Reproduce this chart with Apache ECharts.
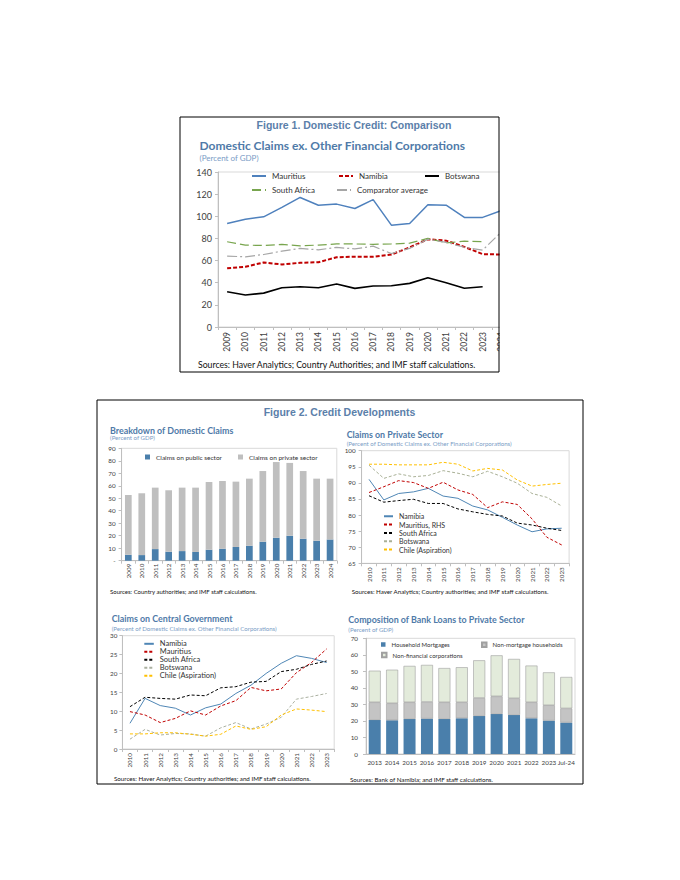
<!DOCTYPE html>
<html><head><meta charset="utf-8">
<script src="https://cdn.jsdelivr.net/npm/echarts@6/dist/echarts.min.js"></script>
<style>html,body{margin:0;padding:0;background:#fff}#c{width:680px;height:880px}</style>
</head><body><div id="c"></div>
<script>
// ---------- Figure 1 data ----------
const f1Years = ['2009','2010','2011','2012','2013','2014','2015','2016','2017','2018','2019','2020','2021','2022','2023','2024'];
const f1Mauritius = [93.5, 97.4, 99.5, 108, 117, 110, 111, 107, 115, 92, 93.5, 110.5, 110, 99, 99, 105];
const f1Namibia = [53, 54.4, 58.3, 56.5, 58, 58.5, 63, 63.5, 63.5, 65.5, 71.9, 79.3, 78, 72.4, 65.8, 65.5];
const f1Botswana = [31.8, 28.9, 30.6, 35.5, 36.3, 35.5, 38.8, 34.9, 37, 37.2, 39.4, 44.5, 40, 35, 36.3, null];
const f1SouthAfrica = [77, 74, 73.6, 74.6, 73.3, 74, 75, 75, 74.7, 75, 75.7, 80, 76, 77.5, 77, null];
const f1Comparator = [64, 63.4, 65.5, 68.5, 71, 69.7, 71.9, 70.5, 73, 66.4, 71, 79.3, 76.4, 72, 69.4, 85.4];

// ---------- Figure 2A: Breakdown of Domestic Claims ----------
const aYears = ['2009','2010','2011','2012','2013','2014','2015','2016','2017','2018','2019','2020','2021','2022','2023','2024'];
const aPublic = [4.8, 4.5, 9.3, 7.2, 7.7, 7.0, 8.8, 9.6, 11, 12, 15.2, 18.4, 20, 17.6, 16, 17];
const aPrivate = [47.8, 49.5, 49.2, 49.2, 50.8, 51.5, 54.2, 54.2, 52.3, 53.7, 56.6, 60.6, 58.3, 54.2, 49.7, 48.7];

// ---------- Figure 2B: Claims on Private Sector ----------
const bYears = ['2010','2011','2012','2013','2014','2015','2016','2017','2018','2019','2020','2021','2022','2023'];
const bNamibia = [91.1, 84.7, 86.7, 87.2, 88.3, 85.9, 85.2, 82.8, 81.6, 79.3, 76.9, 74.8, 75.7, 75.9];
const bMauritius = [87, 88.8, 90.7, 90.1, 88.3, 90.2, 87.8, 86.4, 82.3, 84.1, 83.3, 78.8, 73.1, 70.7];
const bSouthAfrica = [86, 84, 84.5, 84.9, 83.6, 83.6, 81.9, 81, 80.2, 79.7, 77.5, 76.9, 75.9, 75.2];
const bBotswana = [95.5, 91.4, 92.8, 91.9, 92.3, 93.8, 93, 91.9, 93.6, 91.9, 89.9, 86.7, 85.5, 82.8];
const bChile = [95.8, 95.8, 95.6, 95.6, 95.6, 96.4, 95.8, 93.7, 94.5, 94, 90.9, 89, 89.5, 89.9];

// ---------- Figure 2C: Claims on Central Government ----------
const cYears = ['2010','2011','2012','2013','2014','2015','2016','2017','2018','2019','2020','2021','2022','2023'];
const cNamibia = [6.8, 13.4, 11.5, 10.8, 9.0, 10.9, 11.9, 14.7, 16.9, 20.0, 22.7, 24.7, 24.0, 22.9];
const cMauritius = [9.9, 9.0, 7.0, 8.1, 10.1, 9.0, 11.4, 12.8, 16.3, 15.4, 15.9, 20.2, 22.9, 26.5];
const cSouthAfrica = [11.2, 13.7, 13.4, 13.2, 14.3, 14.1, 16.2, 16.5, 17.7, 17.9, 20.5, 21.1, 22.4, 23.3];
const cBotswana = [2.6, 5.2, 3.7, 4.1, 4.0, 3.4, 5.6, 7.0, 5.3, 6.6, 8.4, 13.2, 13.9, 14.7];
const cChile = [4.0, 4.0, 4.3, 4.3, 3.9, 3.4, 3.9, 6.1, 5.2, 5.9, 9.0, 10.6, 10.3, 9.9];

// ---------- Figure 2D: Composition of Bank Loans ----------
const dPeriods = ['2013','2014','2015','2016','2017','2018','2019','2020','2021','2022','2023','Jul-24'];
const dMortgages = [20.6, 20.4, 21.2, 21.4, 21.2, 21.6, 23, 24.2, 23.6, 21.6, 20.2, 19];
const dNonMortgage = [10.7, 10.3, 10.1, 10.1, 10.1, 9.7, 10.9, 10.7, 10.1, 9.7, 9.3, 8.6];
const dNFC = [19.1, 20.3, 22, 22.4, 20.7, 21.2, 22.8, 24.8, 23.8, 22.2, 19.9, 19];

// ---------- styling ----------
const LATO = 'Lato, "Open Sans", sans-serif';
const ARIAL = '"Liberation Sans", Arial, sans-serif';
const AX = '#404040';
const BLUE = '#4a7fab';
const TITLE_C = '#4f7aa8';
const SUB_C = '#7a9cc6';

const chart = echarts.init(document.getElementById('c'), null, {renderer: 'svg', width: 680, height: 880});

function grid(left, top, width, height) {
  return {left, top, width, height, show: true, borderColor: '#d9d9d9', borderWidth: 1,
          backgroundColor: 'transparent', containLabel: false, outerBoundsMode: 'none'};
}
function xCat(gi, data, fs, rotate, margin) {
  return {type: 'category', gridIndex: gi, data, boundaryGap: true,
    axisLine: {show: true, onZero: false, lineStyle: {color: '#bfbfbf', width: 1}},
    axisTick: {show: true, length: 3, lineStyle: {color: '#bfbfbf'}},
    axisLabel: {color: AX, fontFamily: LATO, fontSize: fs, rotate, margin, interval: 0},
    splitLine: {show: false}};
}
function yVal(gi, min, max, interval, fs, margin, fmt) {
  return {type: 'value', gridIndex: gi, min, max, interval,
    axisLine: {show: true, lineStyle: {color: '#bfbfbf', width: 1}},
    axisTick: {show: true, length: 3, lineStyle: {color: '#bfbfbf'}},
    axisLabel: {color: AX, fontFamily: LATO, fontSize: fs, margin, formatter: fmt},
    splitLine: {show: false}};
}
function line(name, gi, data, color, width, type) {
  return {type: 'line', name, xAxisIndex: gi, yAxisIndex: gi, data, symbol: 'none',
    lineStyle: {color, width, type: type || 'solid'}, itemStyle: {color},
    connectNulls: false, silent: true, z: 3};
}
function bar(name, gi, data, color, stack, bw, border) {
  return {type: 'bar', name, xAxisIndex: gi, yAxisIndex: gi, data, stack, barWidth: bw,
    itemStyle: Object.assign({color}, border ? {borderColor: '#a0a0a0', borderWidth: 0.6} : {}),
    silent: true};
}
const strip = n => n.split('|')[0];
function legend(names, left, top, o) {
  return Object.assign({data: names, left, top, padding: 0, itemGap: 0, orient: 'horizontal',
    selectedMode: false, formatter: strip,
    textStyle: {fontFamily: LATO, color: '#333', fontSize: 8, padding: [0, 0, 0, 1]}}, o);
}
// legend for line series: hide the marker symbol, keep the (dashed) line
const NOSYM = {itemStyle: {opacity: 0}};
function txt(text, x, y, font, fill, align) {
  return {type: 'text', z: 70, style: {text, x, y, font, fill, textAlign: align || 'left', textVerticalAlign: 'middle'}};
}

const option = {
  animation: false,
  backgroundColor: '#fff',
  grid: [
    grid(218, 172, 292, 155),      // Figure 1
    grid(121.6, 448.3, 215.2, 112.4), // 2A
    grid(361.6, 450.7, 207.5, 112.6), // 2B
    grid(122.4, 635.7, 211.8, 113.3), // 2C
    grid(366, 638.3, 209, 115.7)      // 2D
  ],
  xAxis: [
    xCat(0, f1Years, 8.5, 90, 5),
    xCat(1, aYears, 6.3, 90, 3),
    xCat(2, bYears, 6.3, 90, 4),
    xCat(3, cYears, 6.3, 90, 4),
    Object.assign(xCat(4, dPeriods, 6.3, 0, 5), {axisTick: {show: false}})
  ],
  yAxis: [
    yVal(0, 0, 140, 20, 9, 6),
    yVal(1, 0, 90, 10, 6.3, 6, v => v === 0 ? '-' : v),
    yVal(2, 65, 100, 5, 6.3, 6),
    yVal(3, 0, 30, 5, 6.3, 5),
    yVal(4, 0, 70, 10, 6.3, 8)
  ],
  legend: [
    legend(['Mauritius|1'], 251, 172, Object.assign({itemWidth: 14, itemHeight: 10}, NOSYM)),
    legend(['Namibia|1'], 338, 172, Object.assign({itemWidth: 14, itemHeight: 10}, NOSYM)),
    legend(['Botswana|1'], 424, 172, Object.assign({itemWidth: 14, itemHeight: 10}, NOSYM)),
    legend(['South Africa|1'], 251, 186, Object.assign({itemWidth: 14, itemHeight: 10}, NOSYM)),
    legend(['Comparator average|1'], 336, 186, Object.assign({itemWidth: 14, itemHeight: 10}, NOSYM)),

    legend(['Claims on public sector'], 145, 453.5, {itemWidth: 5, itemHeight: 5, icon: 'rect',
      textStyle: {fontFamily: LATO, color: '#333', fontSize: 6.5, padding: [0, 0, 0, 1]}}),
    legend(['Claims on private sector'], 238, 453.5, {itemWidth: 5, itemHeight: 5, icon: 'rect',
      textStyle: {fontFamily: LATO, color: '#333', fontSize: 6.5, padding: [0, 0, 0, 1]}}),

    legend(['Namibia|B', 'Mauritius, RHS|B', 'South Africa|B', 'Botswana|B', 'Chile (Aspiration)|B'], 383, 512.1,
      Object.assign({orient: 'vertical', itemWidth: 9, itemHeight: 10.4,
       textStyle: {fontFamily: LATO, color: '#333', fontSize: 7, padding: [0, 0, 0, 1]}}, NOSYM)),

    legend(['Namibia|C', 'Mauritius|C', 'South Africa|C', 'Botswana|C', 'Chile (Aspiration)|C'], 143.3, 639.8,
      Object.assign({orient: 'vertical', itemWidth: 9.5, itemHeight: 9,
       textStyle: {fontFamily: LATO, color: '#333', fontSize: 7.5, padding: [0, 0, 0, 1]}}, NOSYM)),

    legend(['Household Mortgages'], 381, 641.5, {itemWidth: 4.5, itemHeight: 4.5, icon: 'rect',
      textStyle: {fontFamily: LATO, color: '#333', fontSize: 6, padding: [0, 0, 0, 1]}}),
    legend(['Non-mortgage households'], 481, 641.5, {itemWidth: 4.5, itemHeight: 4.5, icon: 'rect',
      textStyle: {fontFamily: LATO, color: '#333', fontSize: 6, padding: [0, 0, 0, 1]}}),
    legend(['Non-financial corporations'], 381, 651.8, {itemWidth: 4.5, itemHeight: 4.5, icon: 'rect',
      textStyle: {fontFamily: LATO, color: '#333', fontSize: 6, padding: [0, 0, 0, 1]}})
  ],
  series: [
    line('Mauritius|1', 0, f1Mauritius, '#4f81bd', 1.5),
    line('Namibia|1', 0, f1Namibia, '#c00000', 2, [4, 2]),
    line('Botswana|1', 0, f1Botswana, '#000000', 1.6),
    line('South Africa|1', 0, f1SouthAfrica, '#78a54e', 1.2, [9, 4]),
    line('Comparator average|1', 0, f1Comparator, '#a6a6a6', 1.2, [10, 3, 2, 3]),

    bar('Claims on public sector', 1, aPublic, BLUE, 'a', 6.7),
    bar('Claims on private sector', 1, aPrivate, '#bfbfbf', 'a', 6.7),

    line('Namibia|B', 2, bNamibia, '#4f86b5', 1),
    line('Mauritius, RHS|B', 2, bMauritius, '#c00000', 1, [3, 2]),
    line('South Africa|B', 2, bSouthAfrica, '#000000', 1, [3, 2]),
    line('Botswana|B', 2, bBotswana, '#a9b096', 1, [3, 2]),
    line('Chile (Aspiration)|B', 2, bChile, '#ffc000', 1, [3, 2]),

    line('Namibia|C', 3, cNamibia, '#4f86b5', 1),
    line('Mauritius|C', 3, cMauritius, '#c00000', 1, [3, 2]),
    line('South Africa|C', 3, cSouthAfrica, '#000000', 1, [3, 2]),
    line('Botswana|C', 3, cBotswana, '#aab0a0', 1, [3, 2]),
    line('Chile (Aspiration)|C', 3, cChile, '#ffc000', 1, [3, 2]),

    bar('Household Mortgages', 4, dMortgages, BLUE, 'd', 12),
    bar('Non-mortgage households', 4, dNonMortgage, '#c4c4c4', 'd', 12, true),
    bar('Non-financial corporations', 4, dNFC, '#e3ebdb', 'd', 12, true)
  ],
  graphic: [
    {type: 'rect', z: 50, shape: {x: 499.6, y: 160, width: 30, height: 210}, style: {fill: '#fff'}},
    {type: 'rect', z: 60, shape: {x: 180, y: 117, width: 319, height: 255}, style: {fill: 'none', stroke: '#000', lineWidth: 1}},
    {type: 'rect', z: 60, shape: {x: 97, y: 400, width: 486, height: 384}, style: {fill: 'none', stroke: '#000', lineWidth: 1}},

    txt('Figure 1. Domestic Credit: Comparison', 354, 125, 'bold 10.5px ' + ARIAL, '#5b80aa', 'center'),
    txt('Domestic Claims ex. Other Financial Corporations', 199.5, 145, 'bold 12px ' + LATO, TITLE_C),
    txt('(Percent of GDP)', 199.5, 158, '8px ' + LATO, SUB_C),
    txt('Sources: Haver Analytics; Country Authorities; and IMF staff calculations.', 198, 364, '8.7px ' + LATO, '#111'),

    txt('Figure 2. Credit Developments', 339.5, 411.5, 'bold 10.5px ' + ARIAL, '#5b80aa', 'center'),

    txt('Breakdown of Domestic Claims', 110, 430, 'bold 8.9px ' + LATO, TITLE_C),
    txt('(Percent of GDP)', 110, 437.5, '6.1px ' + LATO, SUB_C),
    txt('Sources: Country authorities; and IMF staff calculations.', 110, 591.7, '6px ' + LATO, '#111'),

    txt('Claims on Private Sector', 346.7, 434.3, 'bold 8.9px ' + LATO, TITLE_C),
    txt('(Percent of Domestic Claims ex. Other Financial Corporations)', 346.7, 443.3, '6.1px ' + LATO, SUB_C),
    txt('Sources: Haver Analytics; Country authorities; and IMF staff calculations.', 351.7, 591.7, '6.2px ' + LATO, '#111'),

    txt('Claims on Central Government', 111.7, 618.3, 'bold 8.9px ' + LATO, TITLE_C),
    txt('(Percent of Domestic Claims ex. Other Financial Corporations)', 111.7, 628.3, '6.1px ' + LATO, SUB_C),
    txt('Sources: Haver Analytics; Country authorities; and IMF staff calculations.', 114, 778.3, '6.2px ' + LATO, '#111'),

    txt('Composition of Bank Loans to Private Sector', 348.3, 619, 'bold 8.9px ' + LATO, TITLE_C),
    txt('(Percent of GDP)', 348.3, 629, '6.1px ' + LATO, SUB_C),
    txt('Sources: Bank of Namibia; and IMF staff calculations.', 350, 779, '6.2px ' + LATO, '#111')
  ]
};
chart.setOption(option);
</script>
</body></html>
